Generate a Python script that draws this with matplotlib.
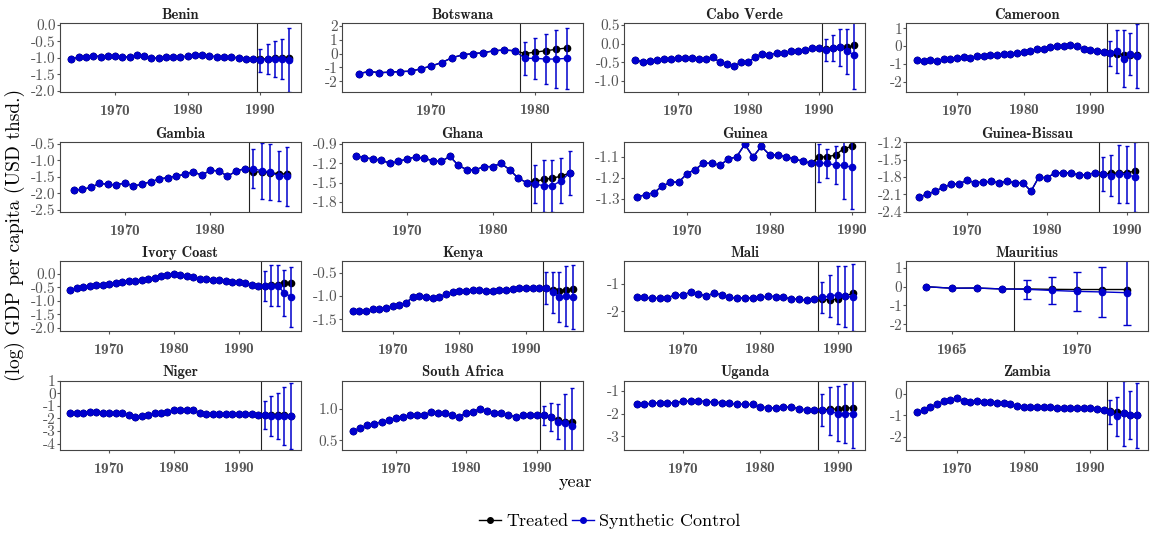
import matplotlib.pyplot as plt
import numpy as np

plt.rcParams['font.family'] = ['cmr10', 'DejaVu Serif']
plt.rcParams['axes.unicode_minus'] = False
plt.rcParams['axes.formatter.use_mathtext'] = True

paises = ["Benin", "Botswana", "Cabo Verde", "Cameroon",
          "Gambia", "Ghana", "Guinea", "Guinea-Bissau",
          "Ivory Coast", "Kenya", "Mali", "Mauritius",
          "Niger", "South Africa", "Uganda", "Zambia"]

# first year, treatment year (line drawn at T+0.5)
inicio = [1964, 1963, 1964, 1964, 1964, 1964, 1964, 1964,
          1964, 1964, 1964, 1964, 1964, 1964, 1964, 1964]
tratamiento = [1989, 1978, 1990, 1992, 1984, 1984, 1985, 1986,
               1993, 1992, 1987, 1967, 1993, 1990, 1987, 1992]

# pre-treatment path (treated and synthetic overlap)
pre = [
    [-1.03, -0.99, -0.97, -0.94, -0.97, -0.96, -0.96, -0.98, -0.98, -0.93, -0.94, -1.02, -1.01, -0.99, -0.98, -0.97,
     -0.96, -0.91, -0.92, -0.94, -0.98, -0.98, -0.99, -1.0, -1.04, -1.05],
    [-1.45, -1.3, -1.38, -1.35, -1.3, -1.28, -1.1, -0.9, -0.65, -0.3, -0.1, 0.0, 0.05, 0.2, 0.25, 0.2],
    [-0.45, -0.48, -0.46, -0.43, -0.41, -0.41, -0.39, -0.39, -0.38, -0.41, -0.4, -0.37, -0.5, -0.55, -0.6, -0.5,
     -0.5, -0.35, -0.28, -0.3, -0.25, -0.24, -0.2, -0.19, -0.17, -0.12, -0.12],
    [-0.8, -0.85, -0.8, -0.85, -0.75, -0.7, -0.65, -0.6, -0.65, -0.55, -0.55, -0.5, -0.5, -0.45, -0.45, -0.4,
     -0.35, -0.3, -0.15, -0.15, -0.05, 0.0, 0.0, 0.05, 0.0, -0.15, -0.2, -0.3, -0.35],
    [-1.9, -1.88, -1.82, -1.7, -1.72, -1.75, -1.68, -1.78, -1.72, -1.65, -1.57, -1.52, -1.48, -1.42, -1.35, -1.45,
     -1.3, -1.32, -1.48, -1.33, -1.25],
    [-1.08, -1.11, -1.13, -1.15, -1.2, -1.17, -1.13, -1.1, -1.12, -1.16, -1.17, -1.09, -1.23, -1.3, -1.3, -1.25,
     -1.25, -1.2, -1.3, -1.43, -1.5],
    [-1.29, -1.28, -1.27, -1.24, -1.22, -1.22, -1.18, -1.16, -1.13, -1.13, -1.14, -1.11, -1.1, -1.04, -1.1, -1.05,
     -1.09, -1.09, -1.1, -1.11, -1.12, -1.13],
    [-2.15, -2.1, -2.05, -1.98, -1.93, -1.92, -1.86, -1.9, -1.89, -1.88, -1.9, -1.88, -1.9, -1.9, -2.05, -1.8,
     -1.82, -1.73, -1.73, -1.73, -1.77, -1.76, -1.73],
    [-0.6, -0.52, -0.48, -0.44, -0.42, -0.4, -0.38, -0.35, -0.3, -0.28, -0.26, -0.25, -0.2, -0.15, -0.1, -0.05,
     0.0, -0.05, -0.1, -0.12, -0.18, -0.2, -0.22, -0.24, -0.28, -0.3, -0.32, -0.35, -0.4, -0.45],
    [-1.33, -1.32, -1.33, -1.27, -1.27, -1.25, -1.22, -1.2, -1.14, -1.03, -1.0, -1.01, -1.04, -1.03, -0.95, -0.92,
     -0.89, -0.88, -0.86, -0.87, -0.88, -0.88, -0.87, -0.86, -0.85, -0.82, -0.82, -0.82, -0.83],
    [-1.5, -1.5, -1.53, -1.53, -1.52, -1.4, -1.4, -1.32, -1.37, -1.45, -1.35, -1.4, -1.5, -1.52, -1.52, -1.52,
     -1.5, -1.45, -1.47, -1.5, -1.55, -1.57, -1.6, -1.55],
    [0.0, -0.08, -0.07, -0.12],
    [-1.6, -1.6, -1.55, -1.45, -1.45, -1.55, -1.6, -1.6, -1.6, -1.7, -1.85, -1.8, -1.7, -1.6, -1.55, -1.5,
     -1.3, -1.3, -1.3, -1.35, -1.55, -1.65, -1.65, -1.65, -1.65, -1.65, -1.65, -1.65, -1.65, -1.75],
    [0.65, 0.7, 0.74, 0.76, 0.8, 0.82, 0.86, 0.88, 0.9, 0.9, 0.9, 0.95, 0.94, 0.93, 0.9, 0.88,
     0.93, 0.96, 1.0, 0.97, 0.93, 0.94, 0.9, 0.88, 0.9, 0.91, 0.91],
    [-1.6, -1.58, -1.55, -1.52, -1.53, -1.53, -1.45, -1.46, -1.45, -1.47, -1.5, -1.52, -1.55, -1.58, -1.6, -1.6,
     -1.7, -1.75, -1.75, -1.72, -1.72, -1.78, -1.85, -1.85],
    [-0.85, -0.75, -0.6, -0.5, -0.35, -0.3, -0.2, -0.35, -0.4, -0.35, -0.38, -0.4, -0.42, -0.45, -0.5, -0.55,
     -0.6, -0.6, -0.6, -0.6, -0.62, -0.65, -0.65, -0.65, -0.65, -0.65, -0.65, -0.7, -0.75],
]

# post-treatment: treated, synthetic, error half-width
post_tratado = [
    [-1.05, -1.03, -1.02, -1.0, -1.0], [0.0, 0.1, 0.2, 0.3, 0.4], [-0.14, -0.12, -0.1, -0.1, -0.05],
    [-0.4, -0.45, -0.5, -0.5, -0.5], [-1.35, -1.35, -1.38, -1.4, -1.42], [-1.48, -1.45, -1.43, -1.4, -1.35],
    [-1.1, -1.1, -1.09, -1.06, -1.05], [-1.75, -1.74, -1.73, -1.73, -1.7], [-0.45, -0.42, -0.4, -0.35, -0.35],
    [-0.82, -0.86, -0.88, -0.86, -0.85], [-1.55, -1.6, -1.55, -1.45, -1.35], [-0.12, -0.14, -0.15, -0.15, -0.15],
    [-1.75, -1.75, -1.75, -1.75, -1.8], [0.9, 0.87, 0.82, 0.8, 0.8], [-1.85, -1.8, -1.8, -1.75, -1.75],
    [-0.8, -0.85, -0.9, -1.0, -1.0]]
post_sintetico = [
    [-1.08, -1.05, -1.05, -1.04, -1.07], [-0.35, -0.35, -0.4, -0.4, -0.35], [-0.17, -0.12, -0.1, -0.2, -0.3],
    [-0.4, -0.3, -0.7, -0.45, -0.55], [-1.25, -1.32, -1.35, -1.48, -1.48], [-1.52, -1.55, -1.55, -1.47, -1.35],
    [-1.13, -1.13, -1.14, -1.14, -1.15], [-1.75, -1.78, -1.75, -1.76, -1.8], [-0.45, -0.45, -0.45, -0.7, -0.85],
    [-0.83, -0.92, -1.02, -1.0, -1.02], [-1.5, -1.45, -1.4, -1.45, -1.5], [-0.14, -0.2, -0.25, -0.28, -0.32],
    [-1.75, -1.8, -1.8, -1.8, -1.8], [0.9, 0.87, 0.8, 0.78, 0.73], [-1.85, -1.9, -2.0, -2.0, -2.0],
    [-0.85, -1.05, -0.9, -1.0, -1.0]]
error = [
    [0.35, 0.45, 0.55, 0.6, 0.98], [1.2, 1.5, 1.8, 2.1, 2.2], [0.3, 0.35, 0.5, 0.6, 0.9],
    [0.7, 1.2, 1.6, 1.2, 1.8], [0.6, 0.85, 0.85, 0.75, 0.9], [0.3, 0.4, 0.4, 0.35, 0.35],
    [0.09, 0.07, 0.09, 0.16, 0.2], [0.3, 0.35, 0.5, 0.5, 0.6], [0.55, 0.75, 0.75, 0.85, 1.1],
    [0.35, 0.45, 0.55, 0.65, 0.7], [0.55, 0.75, 1.05, 1.1, 1.2], [0.5, 0.7, 1.05, 1.35, 1.75],
    [1.1, 1.6, 1.8, 2.3, 2.6], [0.15, 0.22, 0.28, 0.45, 0.6], [0.7, 1.05, 1.2, 1.3, 1.5],
    [0.55, 0.9, 1.5, 1.1, 1.5]]

ylims = [(-2.05, 0.05), (-2.8, 2.2), (-1.3, 0.55), (-2.6, 1.3), (-2.55, -0.45), (-1.95, -0.87),
         (-1.36, -1.03), (-2.4, -1.2), (-2.1, 0.45), (-1.75, -0.25), (-2.7, -0.2), (-2.35, 1.35),
         (-4.5, 1.0), (0.35, 1.45), (-3.6, -0.55), (-2.6, 0.6)]
yticks = [[0, -0.5, -1, -1.5, -2], [-2, -1, 0, 1, 2], [0.5, 0, -0.5, -1], [-2, -1, 0, 1],
          [-0.5, -1, -1.5, -2, -2.5], [-0.9, -1.2, -1.5, -1.8], [-1.1, -1.2, -1.3], [-1.2, -1.5, -1.8, -2.1, -2.4],
          [0, -0.5, -1, -1.5, -2], [-0.5, -1, -1.5], [-1, -2], [-2, -1, 0, 1],
          [1, 0, -1, -2, -3, -4], [0.5, 1.0], [-1, -2, -3], [-2, -1, 0]]
yfmt = ["%.1f", "%d", "%.1f", "%d", "%.1f", "%.1f", "%.1f", "%.1f",
        "%.1f", "%.1f", "%d", "%d", "%d", "%.1f", "%d", "%d"]

azul = "#0000CC"
gris = "#555555"
fig, axes = plt.subplots(4, 4, figsize=(11.51, 5.35), dpi=100)
fig.subplots_adjust(left=0.052, right=0.997, top=0.957, bottom=0.159, wspace=0.17, hspace=0.72)

for i, ax in enumerate(axes.flat):
    T = tratamiento[i]
    anos = np.arange(inicio[i], T + 6)
    trat = pre[i] + post_tratado[i]
    sint = pre[i] + post_sintetico[i]
    anos_post = anos[-5:]
    ax.axvline(T + 0.5, color="#222222", lw=0.8)
    ax.plot(anos, trat, color="black", marker="o", ms=4.5, lw=1)
    ax.plot(anos, sint, color=azul, marker="o", ms=4.5, lw=1)
    ax.errorbar(anos_post, post_sintetico[i], yerr=error[i], fmt="none", ecolor=azul, elinewidth=1.1,
                capsize=3 if paises[i] == "Mauritius" else 1.5)
    ax.set_ylim(ylims[i])
    ax.set_yticks(yticks[i])
    ax.set_yticklabels([yfmt[i] % v for v in yticks[i]])
    if paises[i] == "Mauritius":
        ax.set_xticks([1965, 1970])
        ax.set_xlim(anos[0] - 0.8, anos[-1] + 0.8)
    else:
        ax.set_xticks([t for t in [1970, 1980, 1990] if t <= anos[-1] + 0.5])
        ax.set_xlim(anos[0] - 1.6, anos[-1] + 1.6)
    ax.set_title(paises[i], fontsize=10.5, family="cmb10", pad=3, color="#222222")
    for lbl in ax.get_xticklabels():
        lbl.set_family("cmb10")
    ax.tick_params(axis="both", labelsize=11, colors=gris, length=2, pad=1)
    ax.tick_params(axis="x", pad=6)
    for s in ax.spines.values():
        s.set_color("#444444")

fig.text(0.5, 0.09, "year", ha="center", fontsize=13)
fig.text(0.013, 0.56, "(log) GDP per capita (USD thsd.)", rotation=90, va="center", ha="center", fontsize=14)
h1, = fig.axes[0].plot([], [], color="black", marker="o", ms=4, lw=1, label="Treated")
h2, = fig.axes[0].plot([], [], color=azul, marker="o", ms=4, lw=1, label="Synthetic Control")
fig.legend(handles=[h1, h2], loc="lower center", bbox_to_anchor=(0.53, -0.02), ncol=2, frameon=False,
           fontsize=13, handlelength=1.2, handletextpad=0.3, columnspacing=0.2)
plt.savefig("out.png")
